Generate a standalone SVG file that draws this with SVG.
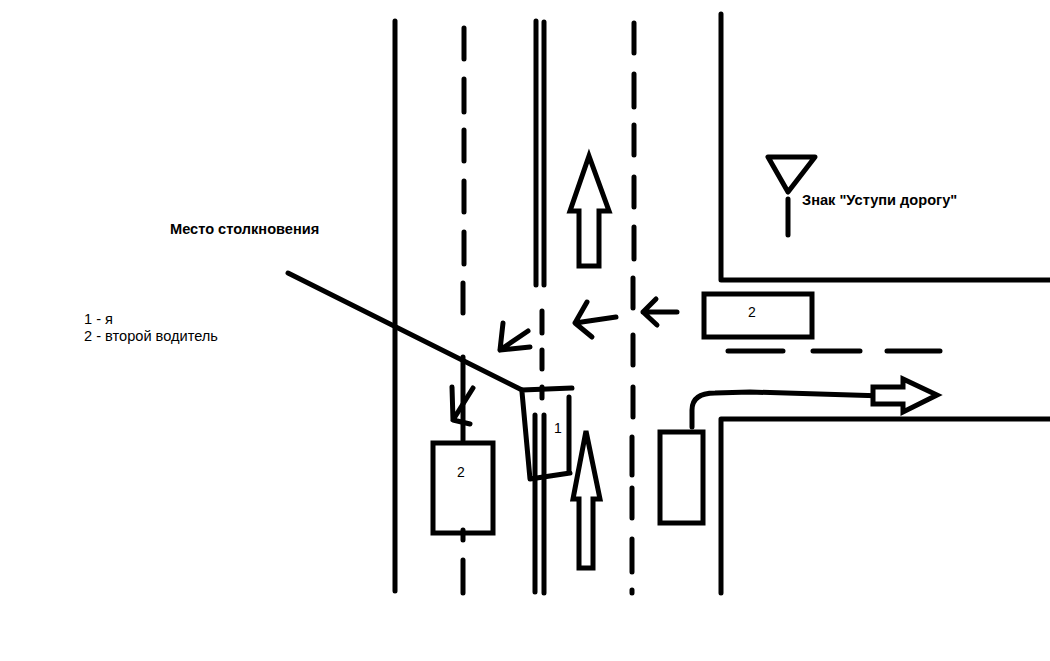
<svg xmlns="http://www.w3.org/2000/svg" width="1050" height="661" viewBox="0 0 1050 661">
<style>
.ln{fill:none;stroke:#000;stroke-width:5;stroke-linecap:round;stroke-linejoin:round}
.car{fill:none;stroke:#000;stroke-width:5;stroke-linejoin:miter}
.ar{fill:#fff;stroke:#000;stroke-width:5;stroke-linejoin:miter}
.lbl{font-family:"Liberation Sans",Arial,sans-serif;font-size:14.6px;fill:#000}
.b{font-weight:bold}
.n{font-size:14px;text-anchor:middle}
</style>
<rect width="1050" height="661" fill="#fff"/>
<g id="road">
<path class="ln" d="M395 21V591"/>
<path class="ln" d="M464 28V59M464 79V112M464 130V161M464 181V212M464 232V264M463 283V313M463 357V440M463 530V540M463 560V593"/>
<path class="ln" d="M536 21V285M544 22V285M542 311V333M542 350V369M542 387V398M535 415V592M544 415V593"/>
<path class="ln" d="M634 23V53M634 74V107M634 125V155M634 177V207M634 227V259M633 278V308M633 335V365M633 387V417M632 437V475M632 488V518M632 539V572M632 590V593"/>
<path class="ln" d="M721 14V280H1050M1050 419H721V593"/>
<path class="ln" d="M728 351H783M813 351H860M887 351H940"/>
</g>
<g id="sign">
<path class="ln" d="M768 157H815L788 192ZM788 199V235"/>
<text class="lbl b" x="802" y="205">Знак "Уступи дорогу"</text>
</g>
<g id="car2-right">
<rect class="car" x="704" y="294" width="108" height="43"/>
<text class="lbl n" x="752" y="317">2</text>
</g>
<g id="car2-left">
<rect class="car" x="433" y="443" width="60" height="90"/>
<text class="lbl n" x="461" y="477">2</text>
</g>
<g id="car1">
<path class="ln" d="M522 390L572 388M522 392L530 479L570 473M569 397V473"/>
<text class="lbl n" x="558" y="433" fill="#333">1</text>
</g>
<g id="car3">
<rect class="car" x="660" y="432" width="43" height="91"/>
</g>
<g id="connectors">
<path class="ar" d="M589 156L609 211H599V266H579V211H570Z"/>
<path class="ar" d="M586 431L600 499H593V568H579V499H573Z"/>
<path class="ln" d="M677 312H643M656 299L643 312L657 325"/>
<path class="ln" d="M616 317L575 323M587 302L575 323L592 337"/>
<path class="ln" d="M528 331L500 350M503 323L500 350L530 347"/>
<path class="ln" d="M473 388L453 420M452 387L453 420L470 424"/>
<path class="ln" d="M692 427V410Q692 393 715 393L750 392L884 396"/>
<path class="ar" d="M873 387H903V379L937 395L903 412V404H873Z"/>
<path class="ln" d="M288 273L522 390"/>
</g>
<g id="legend">
<text class="lbl b" x="170" y="234">Место столкновения</text>
<text class="lbl" x="84" y="324">1 - я</text>
<text class="lbl" x="84" y="341">2 - второй водитель</text>
</g>
</svg>
